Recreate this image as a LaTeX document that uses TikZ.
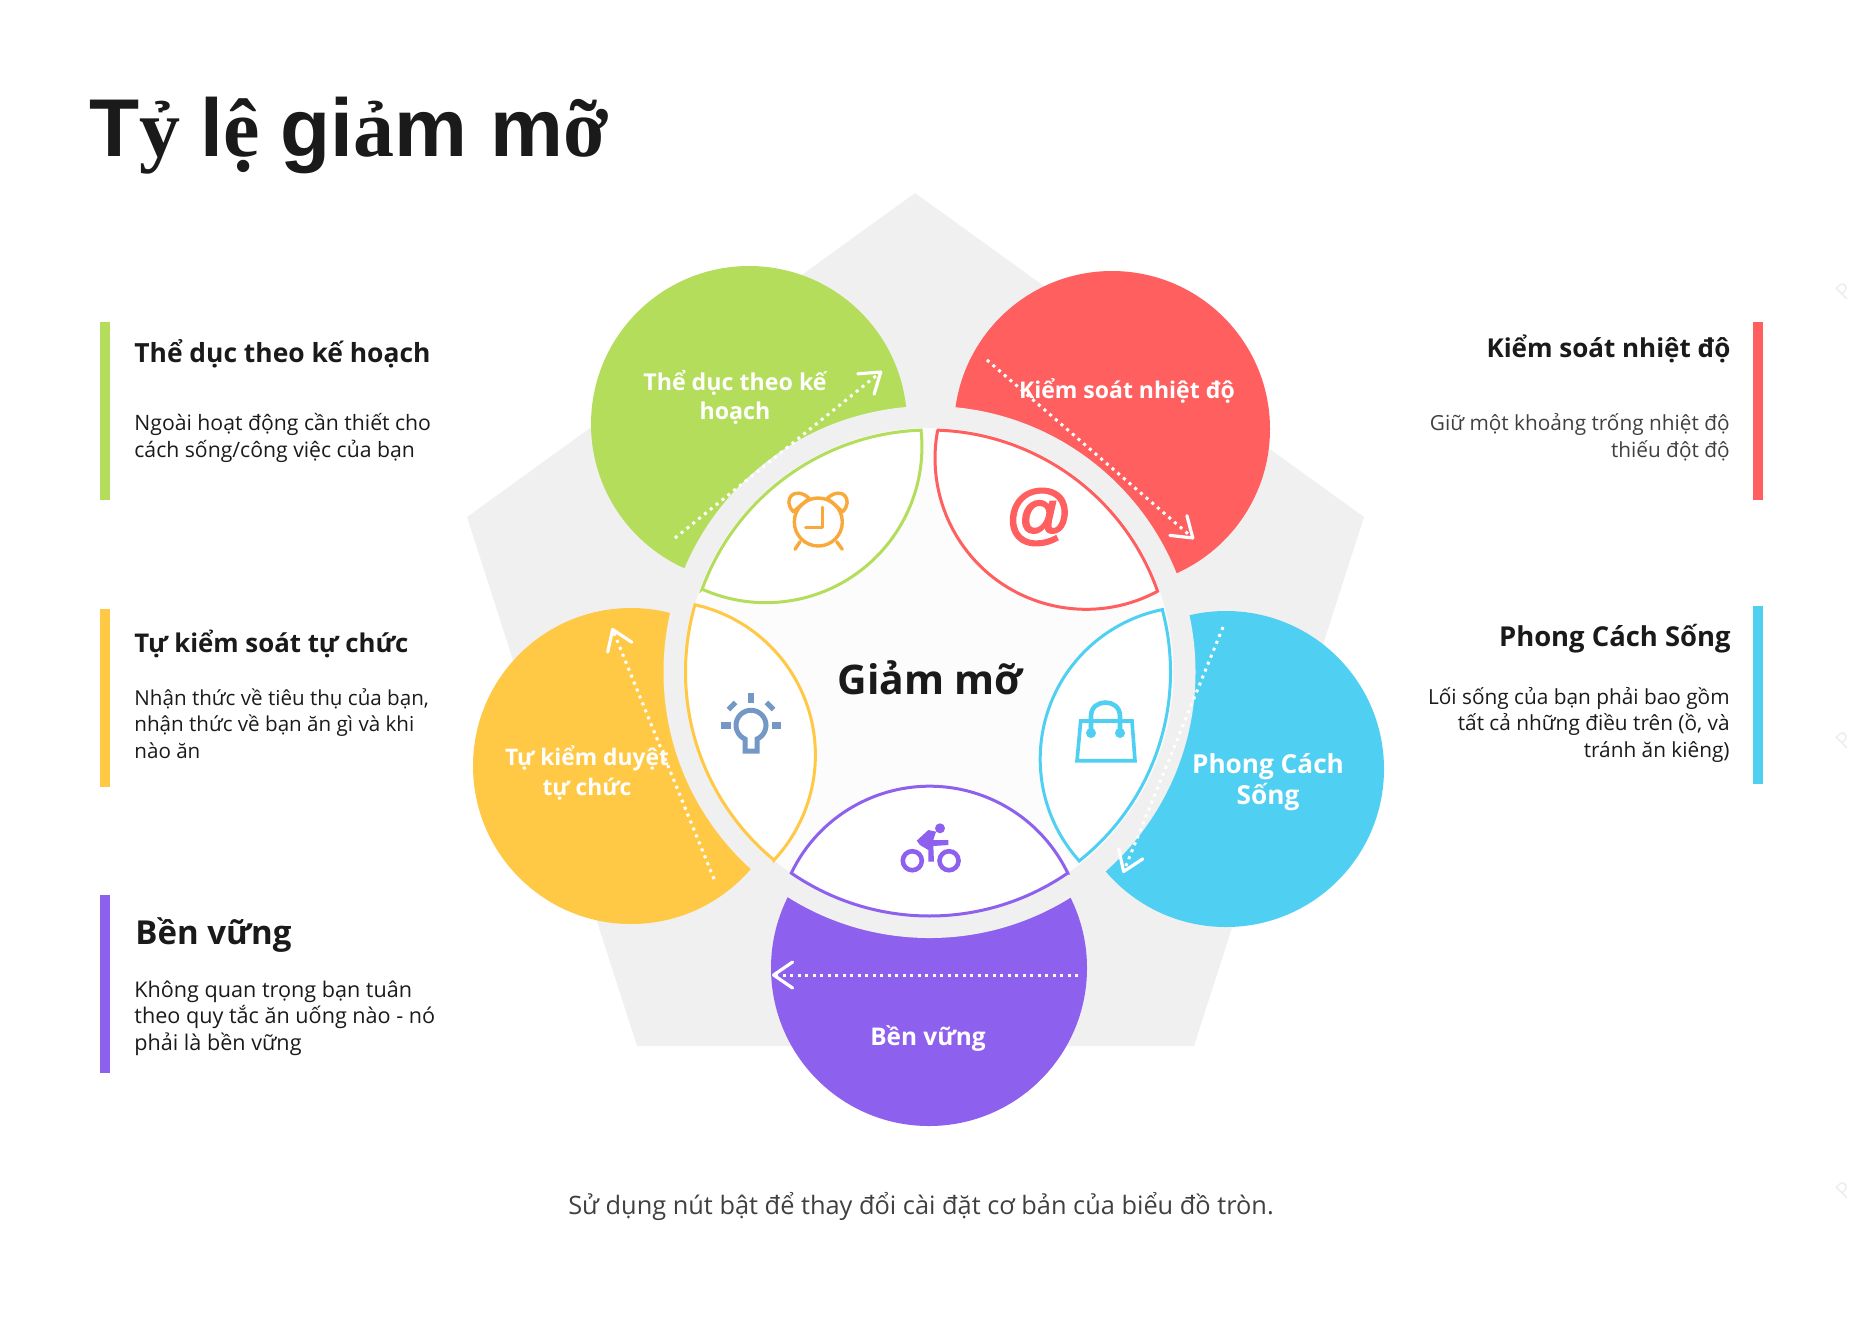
\documentclass[tikz,border=0pt]{standalone}
\usepackage{fontspec}
\usetikzlibrary{arrows.meta,calc}
\setmainfont{Open Sans}
\newfontfamily\tsans{Liberation Sans}
\newfontfamily\tserif{Liberation Serif}
\newfontfamily\atfont[FakeBold=3]{Liberation Sans Italic}
\definecolor{cgreen}{HTML}{B3DD5B}
\definecolor{cred}{HTML}{FF5F5F}
\definecolor{cblue}{HTML}{4FCFF2}
\definecolor{cyellow}{HTML}{FFC845}
\definecolor{cpurple}{HTML}{8E60EE}
\definecolor{cring}{HTML}{F1F0F1}
\definecolor{cink}{HTML}{1A1A1A}
\definecolor{cgrey}{HTML}{404040}
\definecolor{cclock}{HTML}{F9A83A}
\definecolor{cbulb}{HTML}{7398C6}
\newcommand{\fs}[1]{\fontsize{#1}{13.2}\selectfont}
\begin{document}
\begin{tikzpicture}[x=0.5pt,y=-0.5pt,
    bar/.style={inner sep=0pt,minimum width=5pt,minimum height=89pt,anchor=north west},
    ball/.style={circle,inner sep=0pt,minimum size=158pt},
    lens/.style={fill=white,line width=1.5pt,line join=miter},
    inlabel/.style={text=white,align=center,inner sep=0pt},
    head/.style={text=cink,inner sep=0pt},
    lefttext/.style={text=cink,align=left,anchor=base west,inner sep=0pt},
    righttext/.style={text=cink,align=right,anchor=base east,inner sep=0pt},
    flow/.style={white,line width=1.5pt,dash pattern=on 1.5pt off 2.25pt,
      -{Straight Barb[length=9.5pt,width=13pt,line width=1.6pt,round]}},
    iconline/.style={line width=1.7pt,line cap=round,line join=round},
    edgemark/.style={text=black!7,font=\fontsize{11}{11}\selectfont,rotate=45,inner sep=0pt}]
  \useasboundingbox (0,0) rectangle (1857,1335);
  % pentagon behind
  \fill[cring] (915,193) -- (1364,517) -- (1194,1046) -- (637,1046) -- (467,517) -- cycle;
  % coloured balls
  \node[ball,fill=cgreen] (ballgreen) at (749,424) {};
  \node[ball,fill=cred] (ballred) at (1112,429) {};
  \node[ball,fill=cblue] (ballblue) at (1226,769) {};
  \node[ball,fill=cyellow] (ballyellow) at (631,766) {};
  \node[ball,fill=cpurple] (ballpurple) at (929,968) {};
  % ring and inner disc
  \coordinate (c) at (929.5,672);
  \fill[cring] (c) circle (266);
  \fill[white!99!black] (c) circle (244);
  % faint shade next to two lenses
  \fill[black!8,shift={(5,1)}] ($(c)+(129.6:244)$) arc[start angle=129.6,end angle=196,radius=244]
    arc[start angle=282.6,end angle=403,radius=154] -- cycle;
  \fill[black!5,shift={(4,2)}] ($(c)+(-160:242)$) arc[start angle=-160,end angle=-92,radius=242]
    arc[start angle=-6,end angle=114,radius=156.2] -- cycle;
  % lenses, outer arc then inner arc
  \draw[lens,draw=cgreen] ($(c)+(-160:242)$) arc[start angle=-160,end angle=-92,radius=242]
    arc[start angle=-6,end angle=114,radius=156.2] -- cycle;
  \draw[lens,draw=cred] ($(c)+(-88:242)$) arc[start angle=-88,end angle=-19.5,radius=242]
    arc[start angle=61.7,end angle=190.3,radius=151] -- cycle;
  \draw[lens,draw=cblue] ($(c)+(-15:241)$) arc[start angle=-15,end angle=51.6,radius=241]
    arc[start angle=138.1,end angle=258.5,radius=152.5] -- cycle;
  \draw[lens,draw=cpurple] ($(c)+(55.5:244)$) arc[start angle=55.5,end angle=124.5,radius=244]
    arc[start angle=205.7,end angle=334.3,radius=153.4] -- cycle;
  \draw[lens,draw=cyellow] ($(c)+(129.6:244)$) arc[start angle=129.6,end angle=196,radius=244]
    arc[start angle=282.6,end angle=403,radius=154] -- cycle;
  % dotted arrows
  \coordinate (fga) at (675,538);
  \coordinate (fgb) at (882,371);
  \draw[flow] (fga) -- (fgb);
  \coordinate (fra) at (987,360);
  \coordinate (frb) at (1194,539);
  \draw[flow] (fra) -- (frb);
  \coordinate (fba) at (1223,627);
  \coordinate (fbb) at (1123,873);
  \draw[flow] (fba) -- (fbb);
  \coordinate (fya) at (714,879);
  \coordinate (fyb) at (612,628);
  \draw[flow] (fya) -- (fyb);
  \coordinate (fpa) at (1078,975);
  \coordinate (fpb) at (772,975);
  \draw[flow] (fpa) -- (fpb);
  % clock
  \draw[iconline,cclock] (818.3,522) circle (24);
  \draw[iconline,cclock] (822.3,507.3) -- (822.3,527.7) -- (805.7,527.7);
  \draw[iconline,cclock] (793.3,511.7) .. controls (782,500) and (794,485) .. (809.3,498.3) -- cycle;
  \draw[iconline,cclock] (842.7,511.7) .. controls (854,500) and (842,485) .. (827.3,498.3) -- cycle;
  \draw[iconline,cclock] (800,541.7) -- (795,549.3);
  \draw[iconline,cclock] (836.7,541.7) -- (842.3,549.3);
  % at sign
  \node[text=cred,font=\atfont\fontsize{33}{33}\selectfont,inner sep=0pt] (at) at (1038,517) {@};
  % bulb
  \draw[cbulb,line width=2.5pt,line join=miter] (745,751) -- (745,739) arc[start angle=113.6,end angle=426.4,radius=15]
    -- (757,751) -- cycle;
  \fill[cbulb] (748,693) rectangle (754,703);
  \fill[cbulb,rotate around={45:(732,706)}] (727,703.5) rectangle (737,708.5);
  \fill[cbulb,rotate around={-45:(770,706)}] (765,703.5) rectangle (775,708.5);
  \fill[cbulb] (721,722) rectangle (731,729);
  \fill[cbulb] (772,722) rectangle (781,729);
  % bag
  \draw[cblue,line width=1.8pt,line join=miter] (1080.7,721) -- (1132,721) -- (1135,760.7) -- (1077,760.7) -- cycle;
  \draw[cblue,line width=2.3pt] (1091,733) -- (1091,716) .. controls (1091,698) and (1120,698) .. (1120,716) -- (1120,733);
  \fill[cblue] (1091,733) circle (5);
  \fill[cblue] (1120,733) circle (5);
  % bike
  \draw[cpurple,line width=2.3pt] (912.3,860.7) circle (9.5);
  \draw[cpurple,line width=2.3pt] (949,860.7) circle (9.5);
  \fill[cpurple] (940,828.3) circle (5);
  \fill[cpurple] (916.7,840.7) -- (928.3,830) -- (936,831.7) -- (933.3,840) -- (948.3,840) -- (948.3,845) -- (933.3,846)
    -- (934,861.7) -- (928.3,861.7) -- (928.3,850) -- (920,845) -- cycle;
  % centre and ball labels
  \node[text=cink,font=\fontsize{20.4}{25}\selectfont\bfseries,inner sep=0pt] (centre) at (930,678) {Giảm mỡ};
  \node[inlabel,font=\fs{11.6}\bfseries] (lgreen) at (735,397) {Thể dục theo kế\\[1.4pt]hoạch};
  \node[inlabel,font=\fs{11.5}\bfseries] (lred) at (1127,391) {Kiểm soát nhiệt độ};
  \node[inlabel,font=\fs{13.1}\bfseries] (lblue) at (1268,782) {Phong Cách\\[1pt]Sống};
  \node[inlabel,font=\fs{11.4}\bfseries] (lyellow) at (587,773) {Tự kiểm duyệt\\[1.6pt]tự chức};
  \node[inlabel,font=\fs{12.2}\bfseries] (lpurple) at (928,1039) {Bền vững};
  % title
  \node[text=cink,font=\fontsize{41}{48}\selectfont\bfseries,anchor=base west,inner sep=0pt] (title) at (89,156)
    {\tsans T\tserif ỷ \tsans l\tserif ệ \tsans gi\tserif ả\tsans m m\tserif ỡ};
  % left column
  \node[bar,fill=cgreen] (bargreen) at (100,322) {};
  \node[head,anchor=base west,font=\fs{13.2}\bfseries] (hgreen) at (134,362) {Thể dục theo kế hoạch};
  \node[lefttext,font=\fs{10.6}] (tgreen) at (134,457) {Ngoài hoạt động cần thiết cho\\cách sống/công việc của bạn};
  \node[bar,fill=cyellow] (baryellow) at (100,609) {};
  \node[head,anchor=base west,font=\fs{12.9}\bfseries] (hyellow) at (134,652) {Tự kiểm soát tự chức};
  \node[lefttext,font=\fs{10.3}] (tyellow) at (134,758) {Nhận thức về tiêu thụ của bạn,\\nhận thức về bạn ăn gì và khi\\nào ăn};
  \node[bar,fill=cpurple] (barpurple) at (100,895) {};
  \node[head,anchor=base west,font=\fs{16.5}\bfseries] (hpurple) at (135,944) {Bền vững};
  \node[lefttext,font=\fs{10.8}] (tpurple) at (134,1050) {Không quan trọng bạn tuân\\theo quy tắc ăn uống nào - nó\\phải là bền vững};
  % right column
  \node[bar,fill=cred] (barred) at (1753,322) {};
  \node[head,anchor=base east,font=\fs{13}\bfseries] (hred) at (1731,357) {Kiểm soát nhiệt độ};
  \node[righttext,text=cgrey,font=\fs{10.4}] (tred) at (1730,457) {Giữ một khoảng trống nhiệt độ\\thiếu đột độ};
  \node[bar,fill=cblue] (barblue) at (1753,606) {};
  \node[head,anchor=base east,font=\fs{13.7}\bfseries] (hblue) at (1731,646) {Phong Cách Sống};
  \node[righttext,font=\fs{10.4}] (tblue) at (1730,757) {Lối sống của bạn phải bao gồm\\tất cả những điều trên (ồ, và\\tránh ăn kiêng)};
  % caption
  \node[text=cgrey,font=\fontsize{12.68}{15}\selectfont,anchor=base,inner sep=0pt] (caption) at (921,1214)
    {Sử dụng nút bật để thay đổi cài đặt cơ bản của biểu đồ tròn.};
  % marks at the right edge
  \node[edgemark] (marka) at (1844,291) {P};
  \node[edgemark] (markb) at (1844,740) {P};
  \node[edgemark] (markc) at (1844,1190) {P};
\end{tikzpicture}
\end{document}
